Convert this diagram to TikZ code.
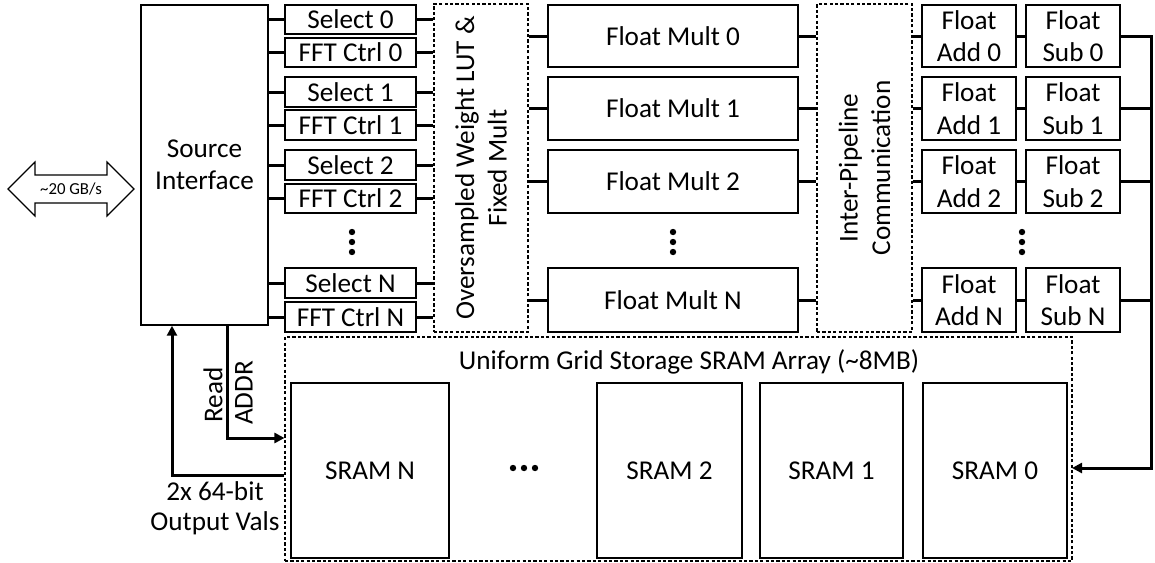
\documentclass[tikz,border=0pt]{standalone}
\usepackage{fontspec}
\setmainfont{Carlito}
\usetikzlibrary{arrows.meta,fit}
% a solid block spanning two corners, with its caption centred inside
\newcommand\blk[6]{%
  \node[box, fit={(#2,#3) (#4,#5)}] (#1) {};
  \node[align=center] (#1-t) at (#1.center) {#6};}
\begin{document}
\begin{tikzpicture}[x=0.5pt,y=-0.5pt,
  font=\fontsize{13.6}{16.2}\selectfont,
  box/.style={draw, line width=0.7pt, inner sep=0pt},
  dbox/.style={draw, line width=0.55pt, dash pattern=on 1.6pt off 1.1pt, inner sep=0pt},
  wire/.style={line width=1.5pt},
  tip/.style={-{Triangle[length=5pt,width=5pt]}},
  dot/.style={fill=black}
]
\useasboundingbox (0,0) rectangle (1155,562);

% source interface
\blk{src}{141}{5}{268}{325}{Source\\Interface}

% per-pipeline blocks
\foreach \k/\ya/\yb/\yc/\yd in {0/5/34/38/67, 1/77/107/110/140, 2/150/180/184/213, N/268/298/302/332}{
  \blk{sel\k}{285}{\ya}{416}{\yb}{Select \k}
  \blk{fft\k}{285}{\yc}{416}{\yd}{FFT Ctrl \k}
  \blk{mul\k}{548}{\ya}{798}{\yd}{Float Mult \k}
  \blk{add\k}{922}{\ya}{1016}{\yd}{Float\\Add \k}
  \blk{sub\k}{1026}{\ya}{1120}{\yd}{Float\\Sub \k}
}

% shared dashed stages
\node[dbox, fit={(434,4) (528,332)}] (lut) {};
\node[rotate=90, align=center] (lut-t) at (lut.center) {Oversampled Weight LUT \&\\Fixed Mult};
\node[dbox, fit={(817,4) (912,332)}] (ipc) {};
\node[rotate=90, align=center] (ipc-t) at (ipc.center) {Inter-Pipeline\\Communication};

% SRAM array
\node[dbox, fit={(285,337) (1072,561)}] (arr) {};
\node (arrtitle) at (689,362) {Uniform Grid Storage SRAM Array (\textasciitilde 8MB)};
\blk{sramN}{291}{383}{449}{558}{SRAM N}
\blk{sram2}{597}{383}{742}{558}{SRAM 2}
\blk{sram1}{760}{383}{903}{558}{SRAM 1}
\blk{sram0}{923}{383}{1067}{558}{SRAM 0}

% ellipses
\foreach \x in {352,673,1022}{
  \foreach \y in {232,242,252} \fill[dot] (\x,\y) circle (1.6pt);
}
\foreach \x in {513,524,535} \fill[dot] (\x,468) circle (1.6pt);

% connectors
\coordinate (busx) at (1151,35);
\coordinate (sramin) at (1072,468);
\foreach \k in {0,1,2,N}{
  \draw[wire] (src.east |- sel\k.west) -- (sel\k.west);
  \draw[wire] (src.east |- fft\k.west) -- (fft\k.west);
  \draw[wire] (sel\k.east) -- (lut.west |- sel\k.east);
  \draw[wire] (fft\k.east) -- (lut.west |- fft\k.east);
  \draw[wire] (lut.east |- mul\k.west) -- (mul\k.west);
  \draw[wire] (mul\k.east) -- (ipc.west |- mul\k.east);
  \draw[wire] (ipc.east |- add\k.west) -- (add\k.west);
  \draw[wire] (add\k.east) -- (sub\k.west);
  \draw[wire] (sub\k.east) -- (busx |- sub\k.east);
}
\draw[wire, tip] (sub0.east) -| (busx |- sramin) -- (sramin);

% address out / data back
\coordinate (raddr) at (227,438);
\coordinate (oval) at (172,475);
\draw[wire, tip] (src.south -| raddr) -- (raddr) -- (arr.west |- raddr);
\draw[wire, tip] (arr.west |- oval) -- (oval) -- (src.south -| oval);
\node[rotate=90] (lread) at (213,395) {Read};
\node[rotate=90] (laddr) at (244,393) {ADDR};
\node (lout1) at (215,491) {2x 64-bit};
\node (lout2) at (215,523) {Output Vals};

% host link
\draw[line width=0.6pt, line join=miter]
  (8,189) -- (35,162) -- (35,175) -- (107,175) -- (107,162) -- (134,189)
  -- (107,216) -- (107,203) -- (35,203) -- (35,216) -- cycle;
\node[font=\fontsize{8.4}{10}\selectfont] (bw) at (71,189) {\textasciitilde 20 GB/s};
\end{tikzpicture}
\end{document}
